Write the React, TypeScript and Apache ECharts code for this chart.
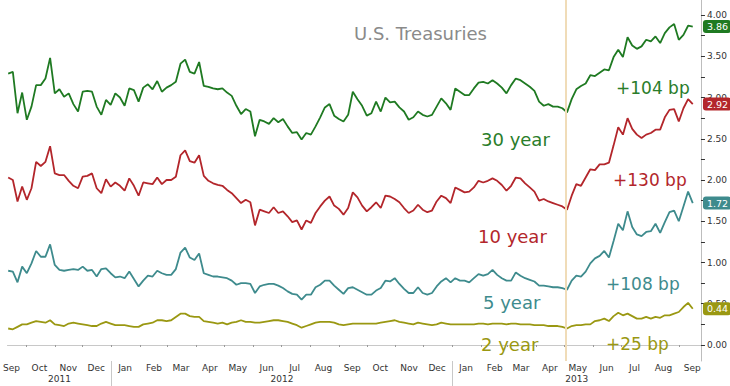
import React, { useEffect, useRef } from "react";
import * as echarts from "echarts";

// Sampling: first observation and spacing (days) of the series values below
const START = Date.UTC(2011, 8, 12);
const STEP_DAYS = 5;
const DAY = 86400000;

const Y30 = [
  3.29, 3.31, 2.81, 3.06, 2.73, 2.89, 3.15, 3.15, 3.23, 3.48,
  3.05, 3.10, 3.01, 3.05, 2.92, 2.83, 3.07, 3.08, 3.07, 2.89,
  2.79, 2.97, 2.91, 3.05, 3.00, 2.90, 3.11, 3.09, 2.95, 3.12,
  3.16, 3.10, 3.20, 3.07, 3.12, 3.15, 3.19, 3.41, 3.46, 3.31,
  3.29, 3.43, 3.14, 3.13, 3.11, 3.10, 3.11, 3.06, 3.02, 2.90,
  2.80, 2.86, 2.83, 2.53, 2.73, 2.71, 2.68, 2.75, 2.70, 2.74,
  2.65, 2.57, 2.58, 2.49, 2.57, 2.55, 2.65, 2.76, 2.88, 2.92,
  2.78, 2.74, 2.71, 2.79, 3.07, 2.98, 2.90, 2.78, 2.81, 2.95,
  2.83, 3.00, 2.94, 2.95, 2.88, 2.83, 2.73, 2.76, 2.83, 2.79,
  2.77, 2.79, 2.89, 2.99, 2.93, 2.85, 3.11, 3.07, 3.03, 3.03,
  3.11, 3.18, 3.19, 3.17, 3.21, 3.17, 3.12, 3.05, 3.15, 3.23,
  3.21, 3.17, 3.13, 3.08, 2.95, 2.90, 2.92, 2.89, 2.89, 2.87,
  2.82, 2.98, 3.10, 3.14, 3.17, 3.27, 3.26, 3.30, 3.34, 3.33,
  3.49, 3.58, 3.49, 3.73, 3.63, 3.59, 3.62, 3.70, 3.68, 3.74,
  3.66, 3.78, 3.85, 3.89, 3.70, 3.76, 3.87, 3.86,
];

const Y10 = [
  2.03, 2.00, 1.74, 1.92, 1.76, 1.90, 2.22, 2.17, 2.22, 2.41,
  2.08, 2.06, 2.06, 1.99, 1.93, 1.90, 2.04, 2.05, 2.08, 1.90,
  1.84, 2.01, 1.92, 1.97, 1.93, 1.87, 2.02, 1.93, 1.81, 1.97,
  1.96, 1.95, 2.03, 1.95, 2.00, 2.00, 2.04, 2.30, 2.36, 2.23,
  2.21, 2.30, 2.05, 1.99, 1.96, 1.94, 1.93, 1.88, 1.84, 1.78,
  1.72, 1.76, 1.73, 1.45, 1.64, 1.62, 1.60, 1.67, 1.60, 1.62,
  1.56, 1.49, 1.51, 1.40, 1.51, 1.48, 1.60, 1.68, 1.75, 1.80,
  1.69, 1.65, 1.58, 1.66, 1.85, 1.79, 1.69, 1.62, 1.67, 1.73,
  1.66, 1.81, 1.80, 1.77, 1.73, 1.66, 1.60, 1.63, 1.70, 1.64,
  1.61, 1.63, 1.74, 1.81, 1.78, 1.72, 1.91, 1.88, 1.85, 1.86,
  1.91, 1.99, 1.97, 1.99, 2.02, 1.99, 1.94, 1.87, 1.93, 2.03,
  2.02, 1.96, 1.91, 1.86, 1.75, 1.77, 1.74, 1.72, 1.70, 1.68,
  1.64, 1.81, 1.95, 1.93, 2.03, 2.13, 2.12, 2.19, 2.19, 2.21,
  2.42, 2.64, 2.55, 2.75, 2.62, 2.55, 2.51, 2.55, 2.57, 2.61,
  2.61, 2.76, 2.85, 2.86, 2.71, 2.87, 2.98, 2.92,
];

const Y5 = [
  0.90, 0.89, 0.76, 0.95, 0.87, 0.99, 1.14, 1.07, 1.07, 1.22,
  0.97, 0.91, 0.90, 0.91, 0.92, 0.91, 0.95, 0.90, 0.91, 0.83,
  0.92, 0.93, 0.87, 0.82, 0.83, 0.81, 0.89, 0.80, 0.71, 0.78,
  0.84, 0.83, 0.90, 0.87, 0.85, 0.85, 0.92, 1.12, 1.18, 1.06,
  1.03, 1.11, 0.87, 0.85, 0.83, 0.83, 0.82, 0.81, 0.78, 0.73,
  0.75, 0.75, 0.74, 0.63, 0.71, 0.73, 0.74, 0.74, 0.72, 0.69,
  0.65, 0.62, 0.61, 0.55, 0.61, 0.61, 0.70, 0.73, 0.78, 0.78,
  0.72, 0.67, 0.62, 0.69, 0.70, 0.67, 0.64, 0.61, 0.61, 0.66,
  0.69, 0.78, 0.77, 0.81, 0.74, 0.68, 0.63, 0.63, 0.70, 0.63,
  0.61, 0.63, 0.71, 0.77, 0.81, 0.76, 0.81, 0.78, 0.78, 0.76,
  0.81, 0.86, 0.84, 0.86, 0.91, 0.85, 0.81, 0.78, 0.78, 0.88,
  0.84, 0.81, 0.79, 0.77, 0.72, 0.72, 0.71, 0.70, 0.70, 0.69,
  0.67, 0.78, 0.84, 0.83, 0.89, 0.99, 1.05, 1.08, 1.14, 1.06,
  1.26, 1.47, 1.39, 1.62, 1.43, 1.34, 1.32, 1.37, 1.38, 1.47,
  1.36, 1.49, 1.61, 1.63, 1.50, 1.68, 1.86, 1.72,
];

const Y2 = [
  0.20, 0.19, 0.22, 0.25, 0.25, 0.27, 0.29, 0.28, 0.27, 0.30,
  0.25, 0.24, 0.23, 0.26, 0.27, 0.26, 0.25, 0.24, 0.23, 0.23,
  0.26, 0.28, 0.26, 0.24, 0.24, 0.24, 0.23, 0.22, 0.22, 0.25,
  0.26, 0.27, 0.30, 0.30, 0.29, 0.30, 0.34, 0.38, 0.38, 0.35,
  0.34, 0.34, 0.29, 0.28, 0.27, 0.26, 0.27, 0.25, 0.27, 0.28,
  0.30, 0.28, 0.28, 0.27, 0.27, 0.28, 0.29, 0.30, 0.30, 0.29,
  0.28, 0.26, 0.24, 0.21, 0.23, 0.25, 0.27, 0.28, 0.28, 0.28,
  0.27, 0.25, 0.24, 0.25, 0.26, 0.26, 0.26, 0.26, 0.26, 0.26,
  0.27, 0.28, 0.29, 0.30, 0.28, 0.27, 0.26, 0.25, 0.27, 0.26,
  0.25, 0.24, 0.25, 0.27, 0.26, 0.25, 0.25, 0.25, 0.25, 0.25,
  0.25, 0.26, 0.26, 0.25, 0.26, 0.26, 0.26, 0.25, 0.26, 0.26,
  0.25, 0.25, 0.25, 0.24, 0.24, 0.24, 0.23, 0.23, 0.23, 0.22,
  0.20, 0.23, 0.24, 0.24, 0.25, 0.25, 0.29, 0.30, 0.32, 0.29,
  0.35, 0.39, 0.36, 0.38, 0.35, 0.32, 0.32, 0.34, 0.32, 0.34,
  0.33, 0.36, 0.36, 0.38, 0.40, 0.46, 0.51, 0.44,
];

const MONTH_NAMES = ["Jan", "Feb", "Mar", "Apr", "May", "Jun", "Jul", "Aug", "Sep", "Oct", "Nov", "Dec"];
const YEAR_LABELS = ["2011", "2012", "2013"];
const Y_TICK_LABELS = [0, 0.5, 1, 1.5, 2, 2.5, 3, 3.5, 4];
const Y_MINOR_TICKS = [0, 0.25, 0.5, 0.75, 1, 1.25, 1.5, 1.75, 2, 2.25, 2.5, 2.75, 3, 3.25, 3.5, 3.75, 4];
const TAPER_LOW_DATE = Date.UTC(2013, 4, 3);

const AX_MIN = Date.UTC(2011, 8, 11, 5);
const AX_MAX = AX_MIN + 744.6 * DAY;

const dates = Y30.map((_, i) => START + i * STEP_DAYS * DAY);
const toPairs = (vals: number[]) => vals.map((v, i) => [dates[i], v]);

// month label positions (mid-month) and month boundaries
const monthMids: number[] = [];
const monthStarts: number[] = [];
for (let y = 2011; y <= 2013; y++) {
  for (let m = 0; m < 12; m++) {
    const s = Date.UTC(y, m, 1);
    const mid = Date.UTC(y, m, 15, 12);
    if (s > AX_MIN && s < AX_MAX) monthStarts.push(s);
    if (mid > AX_MIN && mid < AX_MAX) monthMids.push(mid);
  }
}
const yearStarts = [Date.UTC(2012, 0, 1), Date.UTC(2013, 0, 1)];
const yearLabelPos = [
  (AX_MIN + yearStarts[0]) / 2,
  (yearStarts[0] + yearStarts[1]) / 2,
  (yearStarts[1] + AX_MAX) / 2,
];

const FONT = '"DejaVu Sans", Verdana, sans-serif';

export default function App() {
  const ref = useRef<HTMLDivElement>(null);
  useEffect(() => {
    if (!ref.current) return;
    const chart = echarts.init(ref.current, undefined, { renderer: "svg" });

    const colors = {
      y30: "#1f7a22",
      y10: "#b3262b",
      y5: "#3e8b8d",
      y2: "#9a9812",
    };

    const tagLabel = (color: string) => ({
      show: true,
      position: "end",
      distance: 2,
      formatter: (p: any) => Number(p.value).toFixed(2),
      color: "#fff",
      backgroundColor: color,
      padding: [2, 3, 1, 4],
      borderRadius: 3,
      fontSize: 9.5,
      fontFamily: FONT,
    });

    const hiddenLine = { color: "rgba(0,0,0,0)", width: 0, type: "solid" };

    const endTag = (vals: number[], color: string) => ({
      silent: true,
      symbol: ["none", "none"],
      animation: false,
      data: [
        {
          yAxis: vals[vals.length - 1],
          lineStyle: hiddenLine,
          label: tagLabel(color),
        },
      ],
    });

    const mkSeries = (name: string, vals: number[], color: string, extra: any = {}) => ({
      name,
      type: "line",
      data: toPairs(vals),
      showSymbol: false,
      symbol: "none",
      lineStyle: { color, width: 1.8 },
      itemStyle: { color },
      z: 3,
      markLine: endTag(vals, color),
      ...extra,
    });

    const annotations = [
      { text: "U.S. Treasuries", x: 354, y: 33, color: "#8a8a8a", size: 18 },
      { text: "30 year", x: 481, y: 139, color: "#2a7d2a", size: 18 },
      { text: "+104 bp", x: 616, y: 88, color: "#2a7d2a", size: 17 },
      { text: "10 year", x: 478, y: 236, color: "#b3262b", size: 18 },
      { text: "+130 bp", x: 613, y: 180, color: "#b3262b", size: 17 },
      { text: "5 year", x: 483, y: 302, color: "#3e8b8d", size: 18 },
      { text: "+108 bp", x: 606, y: 284, color: "#3e8b8d", size: 17 },
      { text: "2 year", x: 481, y: 344, color: "#9a9812", size: 18 },
      { text: "+25 bp", x: 606, y: 344, color: "#9a9812", size: 17 },
    ];

    chart.setOption({
      animation: false,
      backgroundColor: "#ffffff",
      grid: { left: 0, top: 0, width: 706, height: 361, containLabel: false },
      xAxis: [
        {
          type: "value",
          min: AX_MIN,
          max: AX_MAX,
          position: "bottom",
          axisLine: { show: true, lineStyle: { color: "#c8c8c8", width: 1 } },
          axisTick: {
            show: true,
            customValues: monthStarts,
            length: 2,
            lineStyle: { color: "#999" },
          },
          axisLabel: {
            show: true,
            customValues: monthMids,
            formatter: (v: number) => MONTH_NAMES[new Date(v).getUTCMonth()],
            fontSize: 9,
            fontFamily: FONT,
            color: "#333",
            margin: 2,
            hideOverlap: false,
          },
          splitLine: { show: false },
        },
        {
          type: "value",
          min: AX_MIN,
          max: AX_MAX,
          position: "bottom",
          offset: 0,
          axisLine: { show: false },
          axisTick: {
            show: true,
            customValues: yearStarts,
            length: 26,
            lineStyle: { color: "#c8c8c8" },
          },
          axisLabel: {
            show: true,
            customValues: yearLabelPos,
            formatter: (v: number) => {
              const y = new Date(v).getUTCFullYear();
              return YEAR_LABELS[y - 2011] ?? String(y);
            },
            fontSize: 9,
            fontFamily: FONT,
            color: "#333",
            margin: 13,
            hideOverlap: false,
          },
          splitLine: { show: false },
        },
      ],
      yAxis: {
        type: "value",
        position: "right",
        min: -0.194,
        max: 4.182,
        axisLine: { show: true, lineStyle: { color: "#bdbdbd" } },
        axisTick: {
          show: true,
          customValues: Y_MINOR_TICKS,
          length: 4,
          lineStyle: { color: "#333" },
        },
        axisLabel: {
          show: true,
          customValues: Y_TICK_LABELS,
          formatter: (v: number) => v.toFixed(2),
          fontSize: 9,
          fontFamily: FONT,
          color: "#333",
          margin: 6,
        },
        splitLine: { show: false },
      },
      series: [
        mkSeries("2 year", Y2, colors.y2, {
          markLine: {
            silent: true,
            symbol: ["none", "none"],
            animation: false,
            data: [
              {
                xAxis: TAPER_LOW_DATE,
                lineStyle: { color: "#f0dcb8", width: 2, type: "solid" },
                label: { show: false },
              },
              {
                yAxis: Y2[Y2.length - 1],
                lineStyle: hiddenLine,
                label: tagLabel(colors.y2),
              },
            ],
          },
        }),
        mkSeries("5 year", Y5, colors.y5),
        mkSeries("10 year", Y10, colors.y10),
        mkSeries("30 year", Y30, colors.y30),
      ],
      graphic: annotations.map((a) => ({
        type: "text",
        x: a.x,
        y: a.y,
        z: 10,
        silent: true,
        style: {
          text: a.text,
          fill: a.color,
          font: `${a.size}px ${FONT}`,
          verticalAlign: "middle",
          align: "left",
        },
      })),
    });

    return () => chart.dispose();
  }, []);

  return (
    <div
      ref={ref}
      style={{ position: "absolute", left: 0, top: 0, width: 730, height: 386 }}
    />
  );
}
